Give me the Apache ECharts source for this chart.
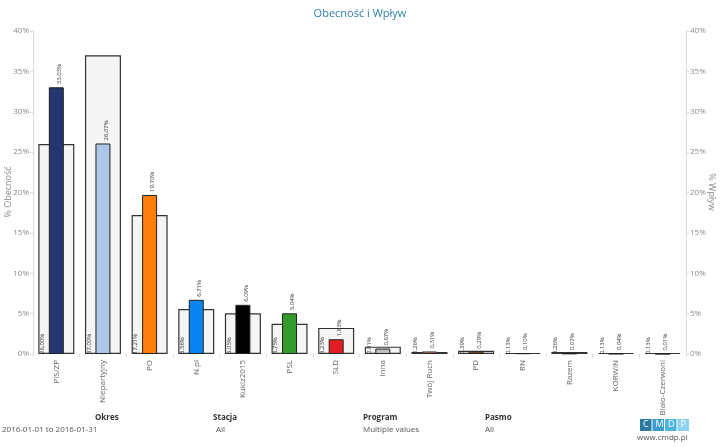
<!DOCTYPE html>
<html><head><meta charset="utf-8">
<script src="https://cdn.jsdelivr.net/npm/echarts@6/dist/echarts.min.js"></script>
<style>html,body{margin:0;padding:0;background:#fff}#c{width:720px;height:447px}</style>
</head><body><div id="c"></div>
<script>
const categories = ['PiS/ZP','Niepartyjny','PO','N.pl','Kukiz2015','PSL','SLD','Inna','Twój Ruch','PD','RN','Razem','KORWiN','Biało-Czerwoni'];
const obecnosc = [26.00,37.00,17.21,5.56,5.05,3.75,3.23,0.91,0.26,0.39,0.13,0.26,0.13,0.13];
const wplyw = [33.03,26.07,19.70,6.71,6.09,5.04,1.83,0.67,0.31,0.29,0.10,0.07,0.04,0.01];
const partyColors = ['#24366f','#aec7e8','#ff7f0e','#0a84f0','#000000','#339a2c','#e31d25','#c0c0c0','#f28a8a','#ff7f0e','#111111','#666666','#444444','#444444'];
const axisNames = ['% Obecność', '% Wpływ'];
const footer = [
  {title:'Okres', value:'2016-01-01 to 2016-01-31', tx:95, vx:2},
  {title:'Stacja', value:'All', tx:213, vx:216},
  {title:'Program', value:'Multiple values', tx:363, vx:363},
  {title:'Pasmo', value:'All', tx:485, vx:485}
];
const fmt = v => v.toFixed(2).replace('.', ',') + '%';
const FONT = '"Open Sans", "Noto Sans", sans-serif';
const chart = echarts.init(document.getElementById('c'));
const yAxisBase = {
  type:'value', min:0, max:40, interval:5,
  axisLine:{show:true, lineStyle:{color:'#dcdcdc'}},
  axisTick:{show:true, length:3, lineStyle:{color:'#dcdcdc'}},
  splitLine:{show:false},
  axisLabel:{formatter:'{value}%', color:'#8a8a8a', fontSize:8, fontFamily:FONT, margin:4}
};
const graphics = [];
graphics.push({type:'text', x:8, y:192, rotation:Math.PI/2,
  style:{text:axisNames[0], font:'9px '+FONT, fill:'#8a8a8a', align:'center', verticalAlign:'middle'}});
graphics.push({type:'text', x:712, y:192, rotation:-Math.PI/2,
  style:{text:axisNames[1], font:'9px '+FONT, fill:'#8a8a8a', align:'center', verticalAlign:'middle'}});
footer.forEach(f => {
  graphics.push({type:'text', left:f.tx, top:414, style:{text:f.title, font:'bold 8px '+FONT, fill:'#333'}});
  graphics.push({type:'text', left:f.vx, top:426, style:{text:f.value, font:'8px '+FONT, fill:'#555'}});
});
const logo = [['C','#2a7aa0'],['M','#3c9ccf'],['D','#4cb5e0'],['P','#8ed2ef']];
logo.forEach((l,i) => {
  graphics.push({type:'rect', left:640+i*12.5, top:419, shape:{width:11.5, height:12}, style:{fill:l[1]}});
  graphics.push({type:'text', left:643+i*12.5, top:420, style:{text:l[0], font:'9px '+FONT, fill:'#fff'}});
});
graphics.push({type:'text', left:637, top:434, style:{text:'www.cmdp.pl', font:'8px '+FONT, fill:'#555'}});

chart.setOption({
  animation:false,
  title:{text:'Obecność i Wpływ', left:'center', top:3, textStyle:{color:'#2f80a8', fontSize:11, fontWeight:'normal', fontFamily:FONT}},
  grid:{left:33, right:34, top:31, bottom:93, containLabel:false, outerBoundsMode:'none'},
  xAxis:[
    {type:'category', data:categories, axisLine:{show:false},
     axisTick:{show:true, length:3, lineStyle:{color:'#dcdcdc'}},
     axisLabel:{rotate:90, color:'#666', fontSize:8, fontFamily:FONT, interval:0, margin:6}},
    {type:'category', data:categories, show:false}
  ],
  yAxis:[
    Object.assign({}, yAxisBase, {position:'left'}),
    Object.assign({}, yAxisBase, {position:'right'})
  ],
  series:[
    {type:'bar', name:'Obecność', xAxisIndex:0, yAxisIndex:0, data:obecnosc, barWidth:36,
     itemStyle:{color:'#f5f5f5', borderColor:'#333', borderWidth:1.2},
     label:{show:true, position:[3,'100%'], rotate:90, align:'left', verticalAlign:'top', distance:0, offset:[0,-2],
            formatter:p=>fmt(p.value), fontSize:6, color:'#333', fontFamily:FONT}},
    {type:'bar', name:'Wpływ', xAxisIndex:1, yAxisIndex:1, data:wplyw.map((v,i)=>({value:v, itemStyle:{color:partyColors[i]}})), barWidth:15,
     itemStyle:{borderColor:'#222', borderWidth:1},
     label:{show:true, position:'top', rotate:90, align:'left', verticalAlign:'top', distance:3,
            formatter:p=>fmt(p.value), fontSize:6, color:'#333', fontFamily:FONT}}
  ],
  graphic:graphics
});
</script></body></html>
